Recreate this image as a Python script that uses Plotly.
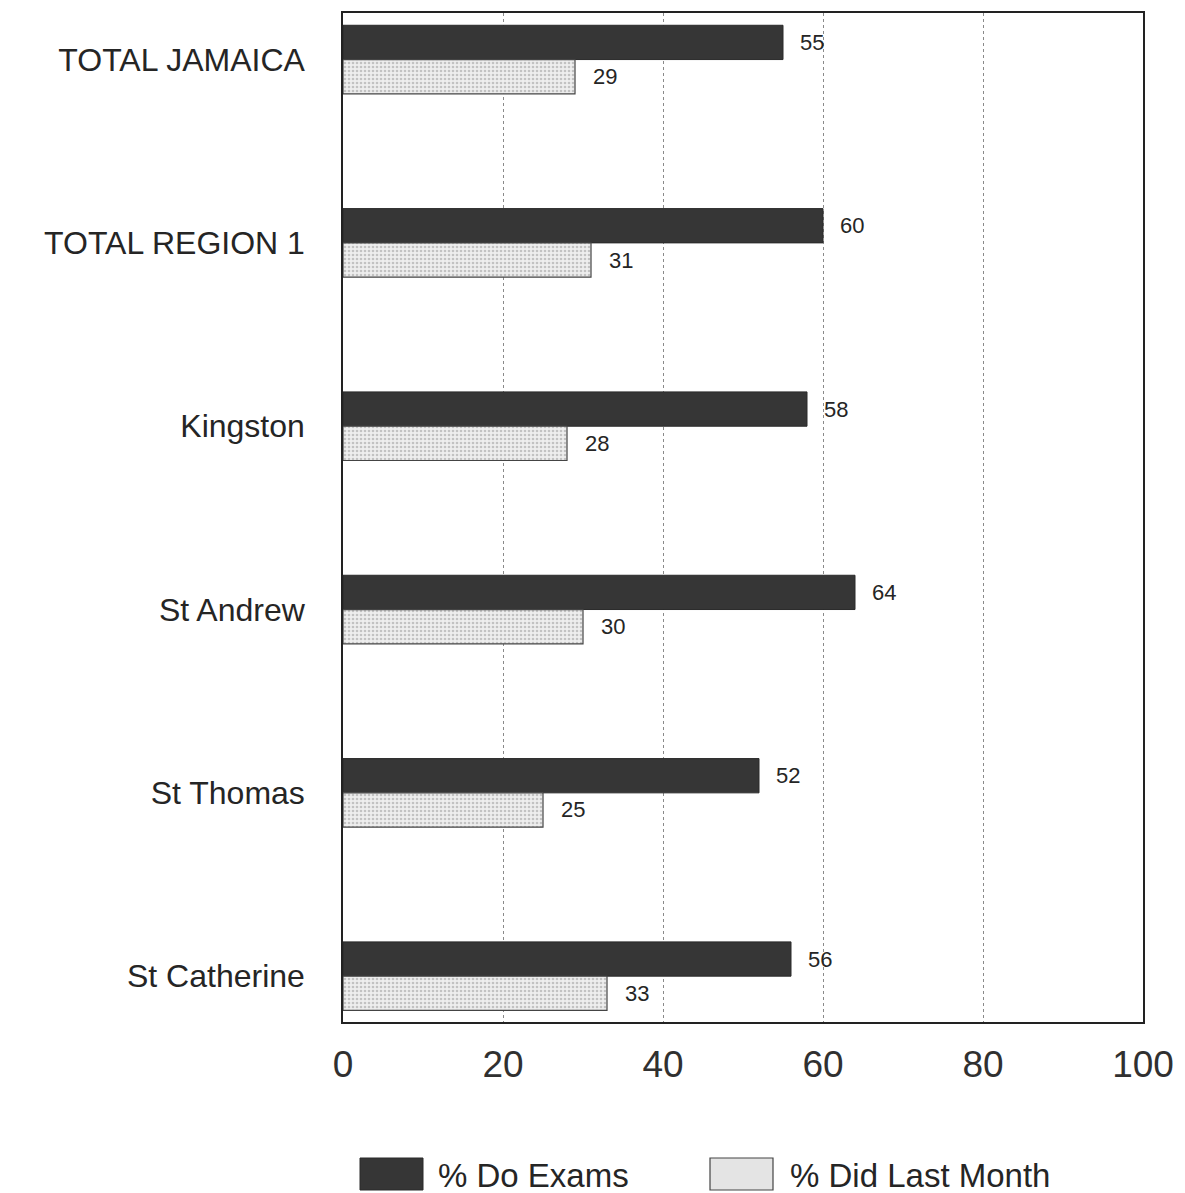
import plotly.graph_objects as go

categories = ["TOTAL JAMAICA", "TOTAL REGION 1", "Kingston", "St Andrew", "St Thomas", "St Catherine"]
do_exams = [55, 60, 58, 64, 52, 56]
did_last_month = [29, 31, 28, 30, 25, 33]
series_names = ["% Do Exams", "% Did Last Month"]
x_ticks = [0, 20, 40, 60, 80, 100]

pos = list(range(len(categories)))
FONT = "Liberation Sans, Arial, sans-serif"
TXT = "#252525"

fig = go.Figure()
fig.add_trace(go.Bar(
    y=pos, x=do_exams, orientation="h", name=series_names[0],
    marker=dict(color="#363636", line=dict(color="#2a2a2a", width=1)),
    showlegend=False, hoverinfo="x",
))
fig.add_trace(go.Bar(
    y=pos, x=did_last_month, orientation="h", name=series_names[1],
    marker=dict(color="#eeeeee", line=dict(color="#444444", width=1.2),
                pattern=dict(shape=".", fgcolor="#959595", bgcolor="#eeeeee", size=4, solidity=0.35)),
    showlegend=False, hoverinfo="x",
))

bw = 0.187
annotations = []
for i, (a, b) in enumerate(zip(do_exams, did_last_month)):
    annotations.append(dict(x=a, y=i - bw / 2, xref="x", yref="y", text=str(a),
                            showarrow=False, xanchor="left", yanchor="middle", xshift=15,
                            font=dict(family=FONT, size=22, color=TXT)))
    annotations.append(dict(x=b, y=i + bw / 2, xref="x", yref="y", text=str(b),
                            showarrow=False, xanchor="left", yanchor="middle", xshift=16,
                            font=dict(family=FONT, size=22, color=TXT)))

# legend (manual, large swatches)
def px_x(p):
    return (p - 343) / 800.0

def px_y(p):
    return (1022 - p) / 1009.0

shapes = [
    dict(type="rect", xref="paper", yref="paper", x0=px_x(360), x1=px_x(423), y0=px_y(1190), y1=px_y(1158),
         fillcolor="#363636", line=dict(color="#2a2a2a", width=1)),
    dict(type="rect", xref="paper", yref="paper", x0=px_x(710), x1=px_x(773), y0=px_y(1190), y1=px_y(1158),
         fillcolor="#e4e4e4", line=dict(color="#444444", width=1.2)),
]
annotations.append(dict(x=px_x(436), y=px_y(1175), xref="paper", yref="paper", text=series_names[0],
                        showarrow=False, xanchor="left", yanchor="middle",
                        font=dict(family=FONT, size=33, color=TXT)))
annotations.append(dict(x=px_x(788), y=px_y(1175), xref="paper", yref="paper", text=series_names[1],
                        showarrow=False, xanchor="left", yanchor="middle",
                        font=dict(family=FONT, size=33, color=TXT)))

fig.update_layout(
    width=1185, height=1193,
    margin=dict(l=343, r=42, t=13, b=171, pad=0),
    paper_bgcolor="white", plot_bgcolor="white",
    barmode="group", bargap=0.626, bargroupgap=0,
    shapes=shapes, annotations=annotations,
    showlegend=False,
    xaxis=dict(range=[0, 100], tickvals=x_ticks, ticktext=[str(t) for t in x_ticks],
               showgrid=True, gridcolor="#8a8a8a", griddash="dot", gridwidth=1,
               showline=True, linecolor="#222222", linewidth=1.5, mirror=True,
               zeroline=False, ticks="", ticklabelstandoff=9,
               tickfont=dict(family=FONT, size=37, color="#303030")),
    yaxis=dict(range=[5.25, -0.254], tickvals=pos, ticktext=categories,
               showgrid=False, zeroline=False,
               showline=True, linecolor="#222222", linewidth=1.5, mirror=True,
               ticks="", ticklabelstandoff=30,
               tickfont=dict(family=FONT, size=32, color=TXT)),
)

fig.write_html("out.html")
